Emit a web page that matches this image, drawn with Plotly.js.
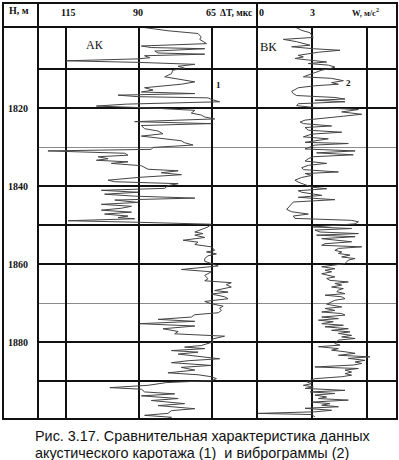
<!DOCTYPE html>
<html>
<head>
<meta charset="utf-8">
<script src="https://cdn.plot.ly/plotly-3.0.1.min.js"></script>
<style>
  html, body { margin: 0; padding: 0; background: #fff; }
  #chart { width: 399px; height: 460px; }
</style>
</head>
<body>
<div id="chart"></div>
<script>
// Acoustic log (АК): interval transit time ΔT, мкс, versus depth H, м
const akDepth = [
  1799.2, 1800.2, 1800.9, 1801.8, 1802.4, 1803.0, 1803.5, 1804.1, 1804.5, 1804.8,
  1805.4, 1805.9, 1806.2, 1806.6, 1807.1, 1807.4, 1807.9, 1808.3, 1808.8, 1809.3,
  1809.8, 1810.3, 1811.2, 1812.0, 1813.3, 1813.9, 1814.8, 1815.4, 1815.9, 1816.3,
  1816.7, 1817.1, 1817.4, 1817.8, 1818.4, 1819.0, 1819.5, 1820.0, 1820.6, 1821.3,
  1821.8, 1822.3, 1822.8, 1823.5, 1824.0, 1824.5, 1825.3, 1825.9, 1826.6, 1827.2,
  1827.7, 1828.4, 1828.9, 1829.5, 1830.1, 1830.6, 1831.0, 1831.6, 1832.1, 1832.5,
  1833.0, 1833.4, 1833.8, 1834.2, 1834.8, 1835.2, 1835.7, 1836.1, 1836.6, 1837.1,
  1837.8, 1838.5, 1838.9, 1839.4, 1839.9, 1840.6, 1841.1, 1841.6, 1842.1, 1842.6,
  1843.1, 1843.6, 1844.2, 1844.7, 1845.2, 1845.7, 1846.2, 1846.7, 1847.2, 1847.7,
  1848.1, 1848.4, 1848.9, 1849.3, 1849.8, 1850.5, 1851.4, 1851.8, 1852.2, 1852.6,
  1853.2, 1853.9, 1854.4, 1855.0, 1855.6, 1856.5, 1856.9, 1857.4, 1857.9, 1858.6,
  1859.3, 1859.9, 1860.5, 1861.4, 1862.0, 1862.9, 1863.8, 1864.3, 1864.8, 1865.3,
  1865.9, 1866.8, 1867.2, 1867.7, 1868.4, 1868.9, 1869.6, 1870.2, 1870.8, 1871.3,
  1871.9, 1872.5, 1873.0, 1873.6, 1874.2, 1874.7, 1875.3, 1875.9, 1876.6, 1877.3,
  1877.9, 1878.5, 1879.3, 1880.0, 1880.9, 1881.3, 1881.7, 1882.2, 1882.6, 1883.1,
  1883.8, 1884.3, 1884.8, 1885.3, 1886.0, 1886.5, 1887.2, 1887.9, 1888.4, 1888.9,
  1889.4, 1889.9, 1890.4, 1891.1, 1891.7, 1892.1, 1892.8, 1893.3, 1893.8, 1894.5,
  1895.0, 1895.8, 1896.3, 1897.1, 1897.6, 1898.3, 1898.8, 1899.3, 1899.8
];
const akDT = [
  89.8, 80.1, 69.8, 68.7, 69.2, 68.1, 66.9, 89.2, 85.8, 67.5,
  84.6, 83.5, 67.5, 88.1, 86.3, 90.3, 114.9, 90.3, 70.9, 76.6,
  74.4, 78.4, 78.9, 81.2, 70.9, 75.5, 88.1, 85.2, 89.2, 70.9,
  97.2, 90.3, 66.4, 65.2, 62.4, 94.3, 104.6, 85.8, 70.9, 72.1,
  68.7, 67.5, 64.1, 91.5, 65.2, 89.2, 88.1, 83.5, 81.8, 89.2,
  82.4, 75.5, 74.4, 71.5, 85.2, 85.8, 121.2, 94.9, 93.8, 104.0,
  100.6, 104.6, 93.8, 99.5, 89.2, 88.1, 86.9, 76.6, 82.4, 75.5,
  90.3, 100.6, 98.3, 76.6, 80.1, 81.2, 102.9, 90.3, 101.8, 91.5,
  70.9, 98.3, 90.3, 102.9, 92.6, 96.1, 102.9, 92.6, 101.8, 93.8,
  97.2, 91.5, 114.3, 90.3, 65.2, 66.4, 69.2, 70.9, 68.1, 70.9,
  67.5, 74.9, 69.8, 70.9, 65.2, 64.1, 66.9, 63.5, 66.4, 67.5,
  67.5, 65.2, 62.9, 75.5, 65.2, 67.5, 66.4, 67.5, 58.4, 60.1,
  58.4, 64.1, 59.5, 65.2, 60.7, 59.5, 67.5, 65.2, 61.2, 62.4,
  61.8, 62.9, 70.9, 72.1, 83.5, 70.9, 89.8, 70.9, 81.8, 76.6,
  77.8, 60.7, 65.2, 64.7, 68.7, 74.4, 67.5, 78.9, 69.8, 76.6,
  68.7, 62.4, 73.2, 78.9, 65.2, 75.5, 70.9, 80.1, 69.8, 65.2,
  63.5, 65.2, 80.6, 86.9, 100.0, 89.2, 88.1, 77.8, 89.2, 76.6,
  85.8, 74.4, 83.5, 70.9, 78.9, 80.1, 88.1, 78.9, 81.2
];

// Vibrogram (ВК): vibration acceleration W, м/с², versus depth H, м
const vkDepth = [
  1799.2, 1800.1, 1800.7, 1801.4, 1801.9, 1802.4, 1803.0, 1803.9, 1804.3, 1804.8,
  1805.2, 1805.7, 1806.5, 1806.9, 1807.3, 1807.7, 1808.2, 1808.6, 1809.0, 1809.5,
  1809.9, 1810.3, 1811.2, 1812.0, 1812.4, 1813.0, 1813.5, 1813.9, 1814.3, 1814.8,
  1815.3, 1815.7, 1816.3, 1816.8, 1817.3, 1817.7, 1818.0, 1818.4, 1818.9, 1819.4,
  1819.8, 1820.4, 1821.0, 1821.6, 1822.1, 1822.7, 1823.1, 1823.6, 1824.0, 1824.6,
  1825.0, 1825.7, 1826.2, 1826.7, 1827.4, 1827.9, 1828.3, 1828.8, 1829.1, 1829.5,
  1830.0, 1830.5, 1831.0, 1831.5, 1832.0, 1832.5, 1833.0, 1833.6, 1834.2, 1834.7,
  1835.3, 1835.8, 1836.4, 1836.8, 1837.3, 1837.8, 1838.5, 1839.0, 1839.5, 1839.9,
  1840.3, 1840.7, 1841.2, 1841.6, 1842.0, 1842.4, 1842.9, 1843.5, 1844.1, 1844.6,
  1845.4, 1846.0, 1846.6, 1847.2, 1847.7, 1848.3, 1848.8, 1849.2, 1849.7, 1850.5,
  1850.9, 1851.3, 1851.8, 1852.2, 1852.6, 1853.0, 1853.5, 1853.9, 1854.3, 1854.8,
  1855.2, 1855.6, 1856.0, 1856.5, 1856.9, 1857.3, 1857.7, 1858.2, 1858.6, 1859.0,
  1859.9, 1860.7, 1861.2, 1861.6, 1862.0, 1862.5, 1862.9, 1863.3, 1863.7, 1864.2,
  1864.6, 1865.0, 1865.4, 1865.9, 1866.3, 1866.7, 1867.1, 1867.6, 1868.0, 1868.4,
  1868.9, 1869.3, 1869.7, 1870.3, 1871.0, 1871.4, 1871.9, 1872.3, 1872.7, 1873.1,
  1873.6, 1874.0, 1874.4, 1874.8, 1875.3, 1875.7, 1876.1, 1876.6, 1877.0, 1877.4,
  1877.8, 1878.3, 1878.7, 1879.1, 1879.5, 1880.4, 1880.8, 1881.2, 1881.7, 1882.1,
  1882.5, 1882.9, 1883.4, 1883.8, 1884.2, 1884.7, 1885.1, 1885.5, 1885.9, 1886.4,
  1886.8, 1887.2, 1887.7, 1888.1, 1888.5, 1888.9, 1889.4, 1890.2, 1890.7, 1891.1,
  1891.5, 1891.9, 1892.4, 1892.8, 1893.2, 1893.6, 1894.1, 1894.5, 1894.9, 1895.4,
  1895.8, 1896.2, 1896.6, 1897.0, 1897.5, 1897.9, 1898.3, 1898.6, 1899.2
];
const vkW = [
  2.07, 2.44, 2.89, 3.02, 3.07, 1.44, 2.16, 2.89, 1.89, 3.07,
  4.53, 3.35, 2.25, 2.53, 2.07, 2.80, 3.80, 2.80, 3.89, 4.25,
  3.98, 3.53, 2.98, 2.53, 4.07, 4.71, 4.07, 4.44, 3.16, 2.25,
  2.07, 1.89, 1.98, 2.16, 4.25, 4.80, 3.16, 4.80, 2.25, 2.16,
  2.98, 5.53, 4.62, 5.71, 4.71, 3.16, 2.62, 2.35, 2.53, 4.07,
  2.62, 2.80, 4.62, 2.98, 2.53, 3.89, 3.35, 2.62, 4.98, 3.16,
  2.89, 2.62, 5.35, 3.25, 5.25, 3.07, 2.80, 2.62, 3.80, 2.80,
  2.44, 2.53, 4.44, 2.62, 2.98, 2.44, 2.07, 2.25, 2.53, 2.80,
  2.98, 3.80, 2.25, 2.44, 3.07, 3.53, 2.25, 4.25, 1.98, 1.89,
  1.71, 1.62, 1.89, 2.80, 1.98, 2.07, 5.16, 5.53, 5.35, 3.07,
  5.16, 3.16, 3.44, 5.53, 3.25, 5.35, 3.53, 4.25, 5.16, 3.71,
  3.53, 5.71, 4.44, 4.25, 4.62, 4.44, 5.07, 4.62, 5.35, 4.98,
  4.80, 3.53, 4.25, 3.71, 4.07, 3.53, 3.89, 4.25, 3.80, 3.98,
  4.98, 4.25, 4.62, 4.07, 4.71, 4.44, 4.35, 4.80, 3.71, 4.62,
  4.80, 4.25, 4.07, 3.80, 4.62, 3.71, 4.25, 3.53, 4.62, 4.80,
  3.53, 4.44, 3.35, 4.16, 3.53, 4.71, 3.71, 4.98, 4.07, 5.07,
  4.44, 5.16, 4.62, 5.35, 4.44, 4.25, 4.53, 3.35, 4.44, 4.07,
  4.80, 5.35, 4.44, 6.16, 4.98, 5.89, 5.35, 5.71, 5.25, 3.16,
  5.53, 4.80, 5.16, 4.80, 5.16, 4.62, 3.16, 2.71, 2.98, 2.53,
  3.07, 2.62, 4.80, 2.89, 4.25, 3.16, 3.80, 3.35, 4.98, 2.98,
  3.98, 3.53, 4.44, 2.62, 4.07, 3.16, 0.07, 2.98, 3.16
];

// Scale marks
const dtTicks = [115, 90, 65];
const wTicks = [0, 3];
const wGrid = [3, 6];
const depthGrid = [1810, 1820, 1840, 1850, 1860, 1880, 1890];
const depthLabels = ['', '1820', '1840', '', '1860', '1880', ''];
const depthThinGrid = [1830, 1870];

const serif = '"Liberation Serif", "Times New Roman", serif';
const sans = '"Liberation Sans", Arial, sans-serif';
const ink = '#111';

// paper helpers: plot area spans x 38..397 px, y 27..419 px
const W = 399, H = 460, L = 38, R = 2, T = 27, B = 41;
const pw = W - L - R, ph = H - T - B;
const px = v => (v - L) / pw;
const py = v => (H - B - v) / ph;
const split = px(257);

const traces = [
  { x: akDT, y: akDepth, xaxis: 'x', yaxis: 'y', type: 'scatter', mode: 'lines',
    line: { color: '#444', width: 1 }, hoverinfo: 'skip' },
  { x: vkW, y: vkDepth, xaxis: 'x2', yaxis: 'y', type: 'scatter', mode: 'lines',
    line: { color: '#444', width: 1 }, hoverinfo: 'skip' }
];

const headerFont = { family: serif, size: 10, color: ink };

const annotations = [
  { text: '<b>H, м</b>', xref: 'paper', yref: 'paper', x: px(7), y: py(11),
    xanchor: 'left', yanchor: 'middle', showarrow: false, font: headerFont },
  ...dtTicks.map(v => ({
    text: '<b>' + v + '</b>', xref: 'x', yref: 'paper', x: v, y: py(13),
    xanchor: 'center', yanchor: 'middle', showarrow: false, font: headerFont,
    xshift: v === 115 ? 2 : -1 })),
  { text: '<b>ΔT, мкс</b>', xref: 'paper', yref: 'paper', x: px(218), y: py(13),
    xanchor: 'left', yanchor: 'middle', showarrow: false, font: { family: serif, size: 9.5, color: ink } },
  ...wTicks.map(v => ({
    text: '<b>' + v + '</b>', xref: 'x2', yref: 'paper', x: v, y: py(13),
    xanchor: 'center', yanchor: 'middle', showarrow: false, font: headerFont,
    xshift: v === 0 ? 4 : 0 })),
  { text: '<b>W, м/с<sup>2</sup></b>', xref: 'paper', yref: 'paper', x: px(350), y: py(13),
    xanchor: 'left', yanchor: 'middle', showarrow: false, font: { family: serif, size: 8.5, color: ink } },
  { text: 'АК', xref: 'paper', yref: 'paper', x: px(95), y: py(45),
    xanchor: 'center', yanchor: 'middle', showarrow: false, font: { family: serif, size: 12, color: ink } },
  { text: 'ВК', xref: 'paper', yref: 'paper', x: px(268), y: py(47),
    xanchor: 'center', yanchor: 'middle', showarrow: false, font: { family: serif, size: 12.5, color: ink } },
  { text: '<b>1</b>', xref: 'paper', yref: 'paper', x: px(218), y: py(85),
    xanchor: 'center', yanchor: 'middle', showarrow: false, font: { family: serif, size: 9, color: ink } },
  { text: '<b>2</b>', xref: 'paper', yref: 'paper', x: px(348), y: py(83),
    xanchor: 'center', yanchor: 'middle', showarrow: false, font: { family: serif, size: 9, color: ink } },
  { text: 'Рис. 3.17. Сравнительная характеристика данных', xref: 'paper', yref: 'paper',
    x: px(33), y: py(436), xanchor: 'left', yanchor: 'middle', showarrow: false,
    font: { family: sans, size: 14.4, color: '#111' } },
  { text: 'акустического каротажа (1)  и виброграммы (2)', xref: 'paper', yref: 'paper',
    x: px(33), y: py(453), xanchor: 'left', yanchor: 'middle', showarrow: false,
    font: { family: sans, size: 14.4, color: '#111' } }
];

const frame = { color: ink, width: 2 };
const shapes = [
  { type: 'rect', xref: 'paper', yref: 'paper', x0: px(3), x1: px(397), y0: py(419), y1: py(3), line: frame },
  { type: 'line', xref: 'paper', yref: 'paper', x0: px(3), x1: px(397), y0: py(27), y1: py(27), line: frame },
  { type: 'line', xref: 'paper', yref: 'paper', x0: px(38), x1: px(38), y0: py(419), y1: py(3), line: frame },
  { type: 'line', xref: 'paper', yref: 'paper', x0: split, x1: split, y0: py(419), y1: py(3), line: frame }
];

const layout = {
  width: W, height: H,
  margin: { l: L, r: R, t: T, b: B, pad: 0 },
  paper_bgcolor: '#fff', plot_bgcolor: '#fff',
  showlegend: false,
  xaxis: {
    domain: [0, split], range: [124.6, 49.6], tickmode: 'array', tickvals: dtTicks,
    showticklabels: false, ticks: '', showgrid: true, gridcolor: ink, gridwidth: 2,
    zeroline: false, showline: false, fixedrange: true
  },
  xaxis2: {
    domain: [split, 1], range: [0, 7.636], anchor: 'y', tickmode: 'array', tickvals: wGrid,
    showticklabels: false, ticks: '', showgrid: true, gridcolor: ink, gridwidth: 2,
    zeroline: false, showline: false, fixedrange: true
  },
  yaxis: {
    range: [1899.74, 1799.23], tickmode: 'array', tickvals: depthGrid, ticktext: depthLabels,
    ticks: '', ticklabelstandoff: 9, showgrid: true, gridcolor: ink, gridwidth: 2,
    zeroline: false, showline: false, fixedrange: true,
    tickfont: { family: serif, size: 10, color: ink, weight: 'bold' },
    minor: { tickmode: 'array', tickvals: depthThinGrid, showgrid: true, gridcolor: '#8a8a8a', gridwidth: 1, ticks: '' }
  },
  annotations: annotations,
  shapes: shapes
};

Plotly.newPlot('chart', traces, layout, { staticPlot: true, displayModeBar: false });
</script>
</body>
</html>
